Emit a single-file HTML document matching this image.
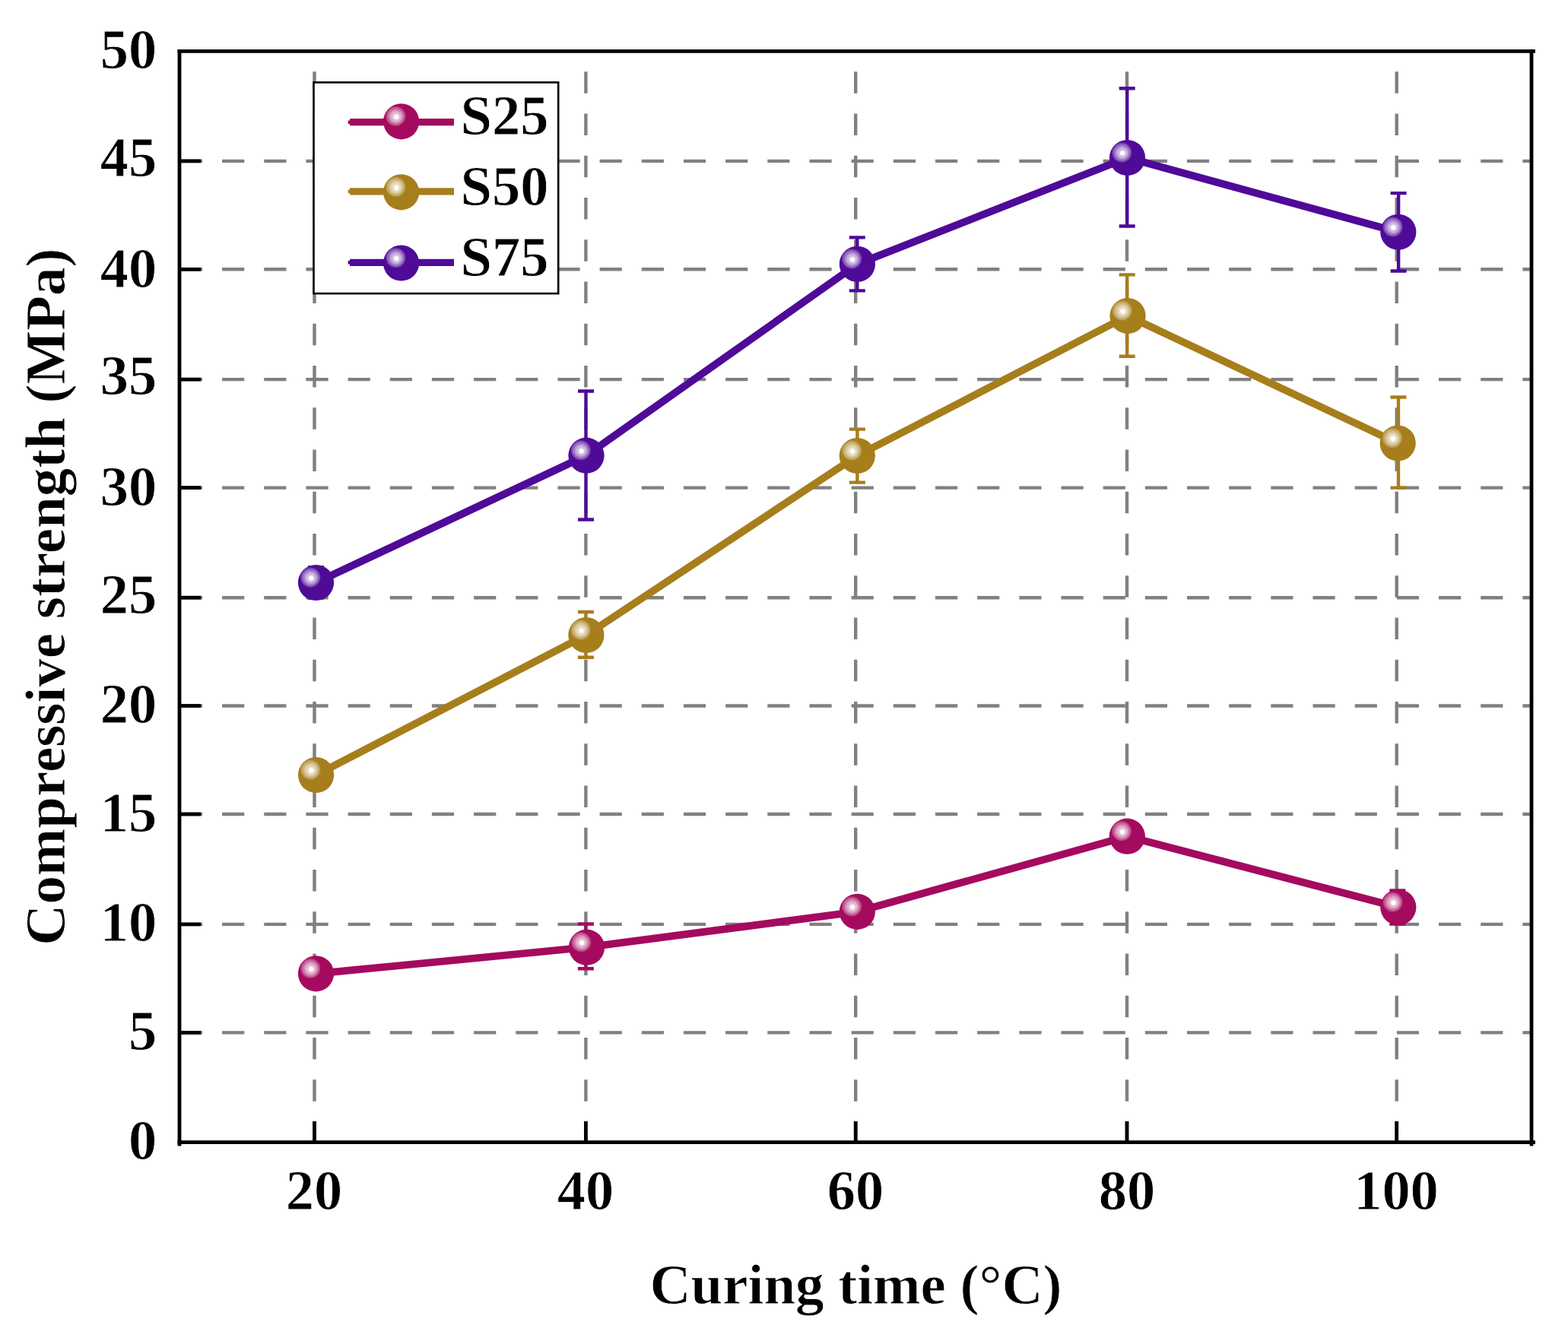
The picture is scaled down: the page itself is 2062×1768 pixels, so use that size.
<!DOCTYPE html>
<html><head><meta charset="utf-8"><title>Compressive strength vs curing</title><style>
html,body{margin:0;padding:0;background:#fff;width:2062px;height:1768px;overflow:hidden}
svg{display:block}
text{font-family:"Liberation Serif","Times New Roman",serif;font-weight:bold;fill:#000;stroke:#fff;stroke-width:0.8px}
</style></head><body>
<svg width="2062" height="1768" viewBox="0 0 2062 1768">
<defs>
<radialGradient id="gS25" cx="0.345" cy="0.352" r="0.29" fx="0.372" fy="0.38"><stop offset="0.00" stop-color="#FFFFFF"/><stop offset="0.20" stop-color="#FDFAFC"/><stop offset="0.30" stop-color="#E7BFD5"/><stop offset="0.48" stop-color="#E1AECA"/><stop offset="0.56" stop-color="#D896BA"/><stop offset="0.68" stop-color="#CD78A6"/><stop offset="0.80" stop-color="#C35D95"/><stop offset="0.90" stop-color="#B63B7E"/><stop offset="1.00" stop-color="#A40A5E"/></radialGradient>
<radialGradient id="gS50" cx="0.345" cy="0.352" r="0.29" fx="0.372" fy="0.38"><stop offset="0.00" stop-color="#FFFFFF"/><stop offset="0.20" stop-color="#FDFCFA"/><stop offset="0.30" stop-color="#E8DDC4"/><stop offset="0.48" stop-color="#E2D4B4"/><stop offset="0.56" stop-color="#D9C89D"/><stop offset="0.68" stop-color="#CEB882"/><stop offset="0.80" stop-color="#C4AA69"/><stop offset="0.90" stop-color="#B89849"/><stop offset="1.00" stop-color="#A67E1C"/></radialGradient>
<radialGradient id="gS75" cx="0.345" cy="0.352" r="0.29" fx="0.372" fy="0.38"><stop offset="0.00" stop-color="#FFFFFF"/><stop offset="0.20" stop-color="#FBFAFD"/><stop offset="0.30" stop-color="#D1BFE4"/><stop offset="0.48" stop-color="#C5AEDD"/><stop offset="0.56" stop-color="#B396D3"/><stop offset="0.68" stop-color="#9E78C6"/><stop offset="0.80" stop-color="#8B5DBB"/><stop offset="0.90" stop-color="#723BAD"/><stop offset="1.00" stop-color="#4F0A98"/></radialGradient>
</defs>
<rect width="2062" height="1768" fill="#fff"/>
<g stroke="#808080" stroke-width="4.4" fill="none">
<line x1="236.9" y1="211.9" x2="2014.0" y2="211.9" stroke-dasharray="29.2 25.97"/>
<line x1="236.9" y1="354.3" x2="2014.0" y2="354.3" stroke-dasharray="29.2 25.97"/>
<line x1="236.9" y1="499.1" x2="2014.0" y2="499.1" stroke-dasharray="29.2 25.97"/>
<line x1="236.9" y1="641.6" x2="2014.0" y2="641.6" stroke-dasharray="29.2 25.97"/>
<line x1="236.9" y1="786.2" x2="2014.0" y2="786.2" stroke-dasharray="29.2 25.97"/>
<line x1="236.9" y1="928.5" x2="2014.0" y2="928.5" stroke-dasharray="29.2 25.97"/>
<line x1="236.9" y1="1071.0" x2="2014.0" y2="1071.0" stroke-dasharray="29.2 25.97"/>
<line x1="236.9" y1="1215.9" x2="2014.0" y2="1215.9" stroke-dasharray="29.2 25.97"/>
<line x1="236.9" y1="1358.4" x2="2014.0" y2="1358.4" stroke-dasharray="29.2 25.97"/>
<line x1="413.5" y1="1504.0" x2="413.5" y2="67.4" stroke-dasharray="28.6 26.65"/>
<line x1="770.4" y1="1504.0" x2="770.4" y2="67.4" stroke-dasharray="28.6 26.65"/>
<line x1="1125.2" y1="1504.0" x2="1125.2" y2="67.4" stroke-dasharray="28.6 26.65"/>
<line x1="1482.0" y1="1504.0" x2="1482.0" y2="67.4" stroke-dasharray="28.6 26.65"/>
<line x1="1836.7" y1="1504.0" x2="1836.7" y2="67.4" stroke-dasharray="28.6 26.65"/>
</g>
<g stroke="#000" stroke-width="4.8" fill="none" stroke-linecap="butt">
<line x1="233.6" y1="67.4" x2="2018.9" y2="67.4"/>
<line x1="233.6" y1="1502.7" x2="2018.9" y2="1502.7"/>
<line x1="236.0" y1="65" x2="236.0" y2="1507.5"/>
<line x1="2014.0" y1="65" x2="2014.0" y2="1507.5"/>
<line x1="236.0" y1="211.9" x2="264.2" y2="211.9"/>
<line x1="236.0" y1="354.3" x2="264.2" y2="354.3"/>
<line x1="236.0" y1="499.1" x2="264.2" y2="499.1"/>
<line x1="236.0" y1="641.6" x2="264.2" y2="641.6"/>
<line x1="236.0" y1="786.2" x2="264.2" y2="786.2"/>
<line x1="236.0" y1="928.5" x2="264.2" y2="928.5"/>
<line x1="236.0" y1="1071.0" x2="264.2" y2="1071.0"/>
<line x1="236.0" y1="1215.9" x2="264.2" y2="1215.9"/>
<line x1="236.0" y1="1358.4" x2="264.2" y2="1358.4"/>
<line x1="413.5" y1="1502.7" x2="413.5" y2="1475"/>
<line x1="770.4" y1="1502.7" x2="770.4" y2="1475"/>
<line x1="1125.2" y1="1502.7" x2="1125.2" y2="1475"/>
<line x1="1482.0" y1="1502.7" x2="1482.0" y2="1475"/>
<line x1="1836.7" y1="1502.7" x2="1836.7" y2="1475"/>
</g>
<text transform="translate(206.1,89.95) scale(1.020,1)" font-size="73" text-anchor="end">50</text>
<text transform="translate(206.1,232.25) scale(1.020,1)" font-size="73" text-anchor="end">45</text>
<text transform="translate(206.1,377.55) scale(1.020,1)" font-size="73" text-anchor="end">40</text>
<text transform="translate(206.1,519.15) scale(1.020,1)" font-size="73" text-anchor="end">35</text>
<text transform="translate(206.1,664.65) scale(1.020,1)" font-size="73" text-anchor="end">30</text>
<text transform="translate(206.1,806.55) scale(1.020,1)" font-size="73" text-anchor="end">25</text>
<text transform="translate(206.1,951.05) scale(1.020,1)" font-size="73" text-anchor="end">20</text>
<text transform="translate(206.1,1093.65) scale(1.020,1)" font-size="73" text-anchor="end">15</text>
<text transform="translate(206.1,1238.45) scale(1.020,1)" font-size="73" text-anchor="end">10</text>
<text transform="translate(206.1,1380.85) scale(1.020,1)" font-size="73" text-anchor="end">5</text>
<text transform="translate(206.1,1525.40) scale(1.020,1)" font-size="73" text-anchor="end">0</text>
<text transform="translate(413.0,1590.8) scale(1.020,1)" font-size="73" text-anchor="middle">20</text>
<text transform="translate(769.9,1590.8) scale(1.020,1)" font-size="73" text-anchor="middle">40</text>
<text transform="translate(1124.9,1590.8) scale(1.020,1)" font-size="73" text-anchor="middle">60</text>
<text transform="translate(1481.9,1590.8) scale(1.020,1)" font-size="73" text-anchor="middle">80</text>
<text transform="translate(1836.0,1590.8) scale(1.020,1)" font-size="73" text-anchor="middle">100</text>
<text transform="translate(1125.5,1715.0) scale(1.013,1)" font-size="74" text-anchor="middle">Curing time (°C)</text>
<text transform="translate(84.5,785.1) rotate(-90) scale(1.013,1)" font-size="74" text-anchor="middle">Compressive strength (MPa)</text>
<path d="M415.5,1280.8 L771.5,1246.2 L1127.4,1199.3 L1482.3,1100.2 L1838.8,1193.5" stroke="#A40A5E" stroke-width="9.8" fill="none" stroke-linejoin="round"/>
<path d="M415.6,1019.5 L770.9,835.5 L1127.3,599.5 L1483.0,415.5 L1838.2,583.0" stroke="#A67E1C" stroke-width="9.8" fill="none" stroke-linejoin="round"/>
<path d="M415.5,766.5 L771.0,599.2 L1127.4,347.4 L1482.5,207.5 L1838.8,305.3" stroke="#4F0A98" stroke-width="9.8" fill="none" stroke-linejoin="round"/>
<path d="M770.4,1215.5 V1274.3 M759.9,1215.5 H780.9 M759.9,1274.3 H780.9" stroke="#A40A5E" stroke-width="4.4" fill="none"/>
<path d="M1837.8,1171.4 V1215.6 M1827.3,1171.4 H1848.3 M1827.3,1215.6 H1848.3" stroke="#A40A5E" stroke-width="4.4" fill="none"/>
<path d="M770.4,805.0 V864.8 M759.9,805.0 H780.9 M759.9,864.8 H780.9" stroke="#A67E1C" stroke-width="4.4" fill="none"/>
<path d="M1127.4,564.6 V634.6 M1116.9,564.6 H1137.9 M1116.9,634.6 H1137.9" stroke="#A67E1C" stroke-width="4.4" fill="none"/>
<path d="M1482.2,361.4 V468.7 M1471.7,361.4 H1492.7 M1471.7,468.7 H1492.7" stroke="#A67E1C" stroke-width="4.4" fill="none"/>
<path d="M1839.0,522.5 V641.6 M1828.5,522.5 H1849.5 M1828.5,641.6 H1849.5" stroke="#A67E1C" stroke-width="4.4" fill="none"/>
<path d="M415.5,746.2 V786.6 M405.0,746.2 H426.0 M405.0,786.6 H426.0" stroke="#4F0A98" stroke-width="4.4" fill="none"/>
<path d="M770.5,514.5 V683.5 M760.0,514.5 H781.0 M760.0,683.5 H781.0" stroke="#4F0A98" stroke-width="4.4" fill="none"/>
<path d="M1127.3,312.4 V382.4 M1116.8,312.4 H1137.8 M1116.8,382.4 H1137.8" stroke="#4F0A98" stroke-width="4.4" fill="none"/>
<path d="M1482.2,116.3 V297.5 M1471.7,116.3 H1492.7 M1471.7,297.5 H1492.7" stroke="#4F0A98" stroke-width="4.4" fill="none"/>
<path d="M1839.1,254.1 V356.5 M1828.6,254.1 H1849.6 M1828.6,356.5 H1849.6" stroke="#4F0A98" stroke-width="4.4" fill="none"/>
<circle cx="415.5" cy="1280.8" r="23.6" fill="url(#gS25)"/>
<circle cx="771.5" cy="1246.2" r="23.6" fill="url(#gS25)"/>
<circle cx="1127.4" cy="1199.3" r="23.6" fill="url(#gS25)"/>
<circle cx="1482.3" cy="1100.2" r="23.6" fill="url(#gS25)"/>
<circle cx="1838.8" cy="1193.5" r="23.6" fill="url(#gS25)"/>
<circle cx="415.6" cy="1019.5" r="23.6" fill="url(#gS50)"/>
<circle cx="770.9" cy="835.5" r="23.6" fill="url(#gS50)"/>
<circle cx="1127.3" cy="599.5" r="23.6" fill="url(#gS50)"/>
<circle cx="1483.0" cy="415.5" r="23.6" fill="url(#gS50)"/>
<circle cx="1838.2" cy="583.0" r="23.6" fill="url(#gS50)"/>
<circle cx="415.5" cy="766.5" r="23.6" fill="url(#gS75)"/>
<circle cx="771.0" cy="599.2" r="23.6" fill="url(#gS75)"/>
<circle cx="1127.4" cy="347.4" r="23.6" fill="url(#gS75)"/>
<circle cx="1482.5" cy="207.5" r="23.6" fill="url(#gS75)"/>
<circle cx="1838.8" cy="305.3" r="23.6" fill="url(#gS75)"/>
<rect x="412.5" y="108.4" width="321.7" height="277.7" fill="#fff" stroke="#000" stroke-width="2.6"/>
<line x1="460" y1="160.7" x2="597" y2="160.7" stroke="#A40A5E" stroke-width="9.2" stroke-linecap="butt"/>
<rect x="457.7" y="158.4" width="3" height="4.6" fill="#A40A5E"/>
<circle cx="527.6" cy="159.8" r="23.6" fill="url(#gS25)"/>
<text transform="translate(605.6,176.50) scale(1.020,1)" font-size="73">S25</text>
<line x1="460" y1="251.8" x2="597" y2="251.8" stroke="#A67E1C" stroke-width="9.2" stroke-linecap="butt"/>
<rect x="457.7" y="249.5" width="3" height="4.6" fill="#A67E1C"/>
<circle cx="527.6" cy="252.8" r="23.6" fill="url(#gS50)"/>
<text transform="translate(605.6,269.85) scale(1.020,1)" font-size="73">S50</text>
<line x1="460" y1="345.3" x2="597" y2="345.3" stroke="#4F0A98" stroke-width="9.2" stroke-linecap="butt"/>
<rect x="457.7" y="343.0" width="3" height="4.6" fill="#4F0A98"/>
<circle cx="527.6" cy="346.0" r="23.6" fill="url(#gS75)"/>
<text transform="translate(605.6,363.00) scale(1.020,1)" font-size="73">S75</text>
</svg>
</body></html>
